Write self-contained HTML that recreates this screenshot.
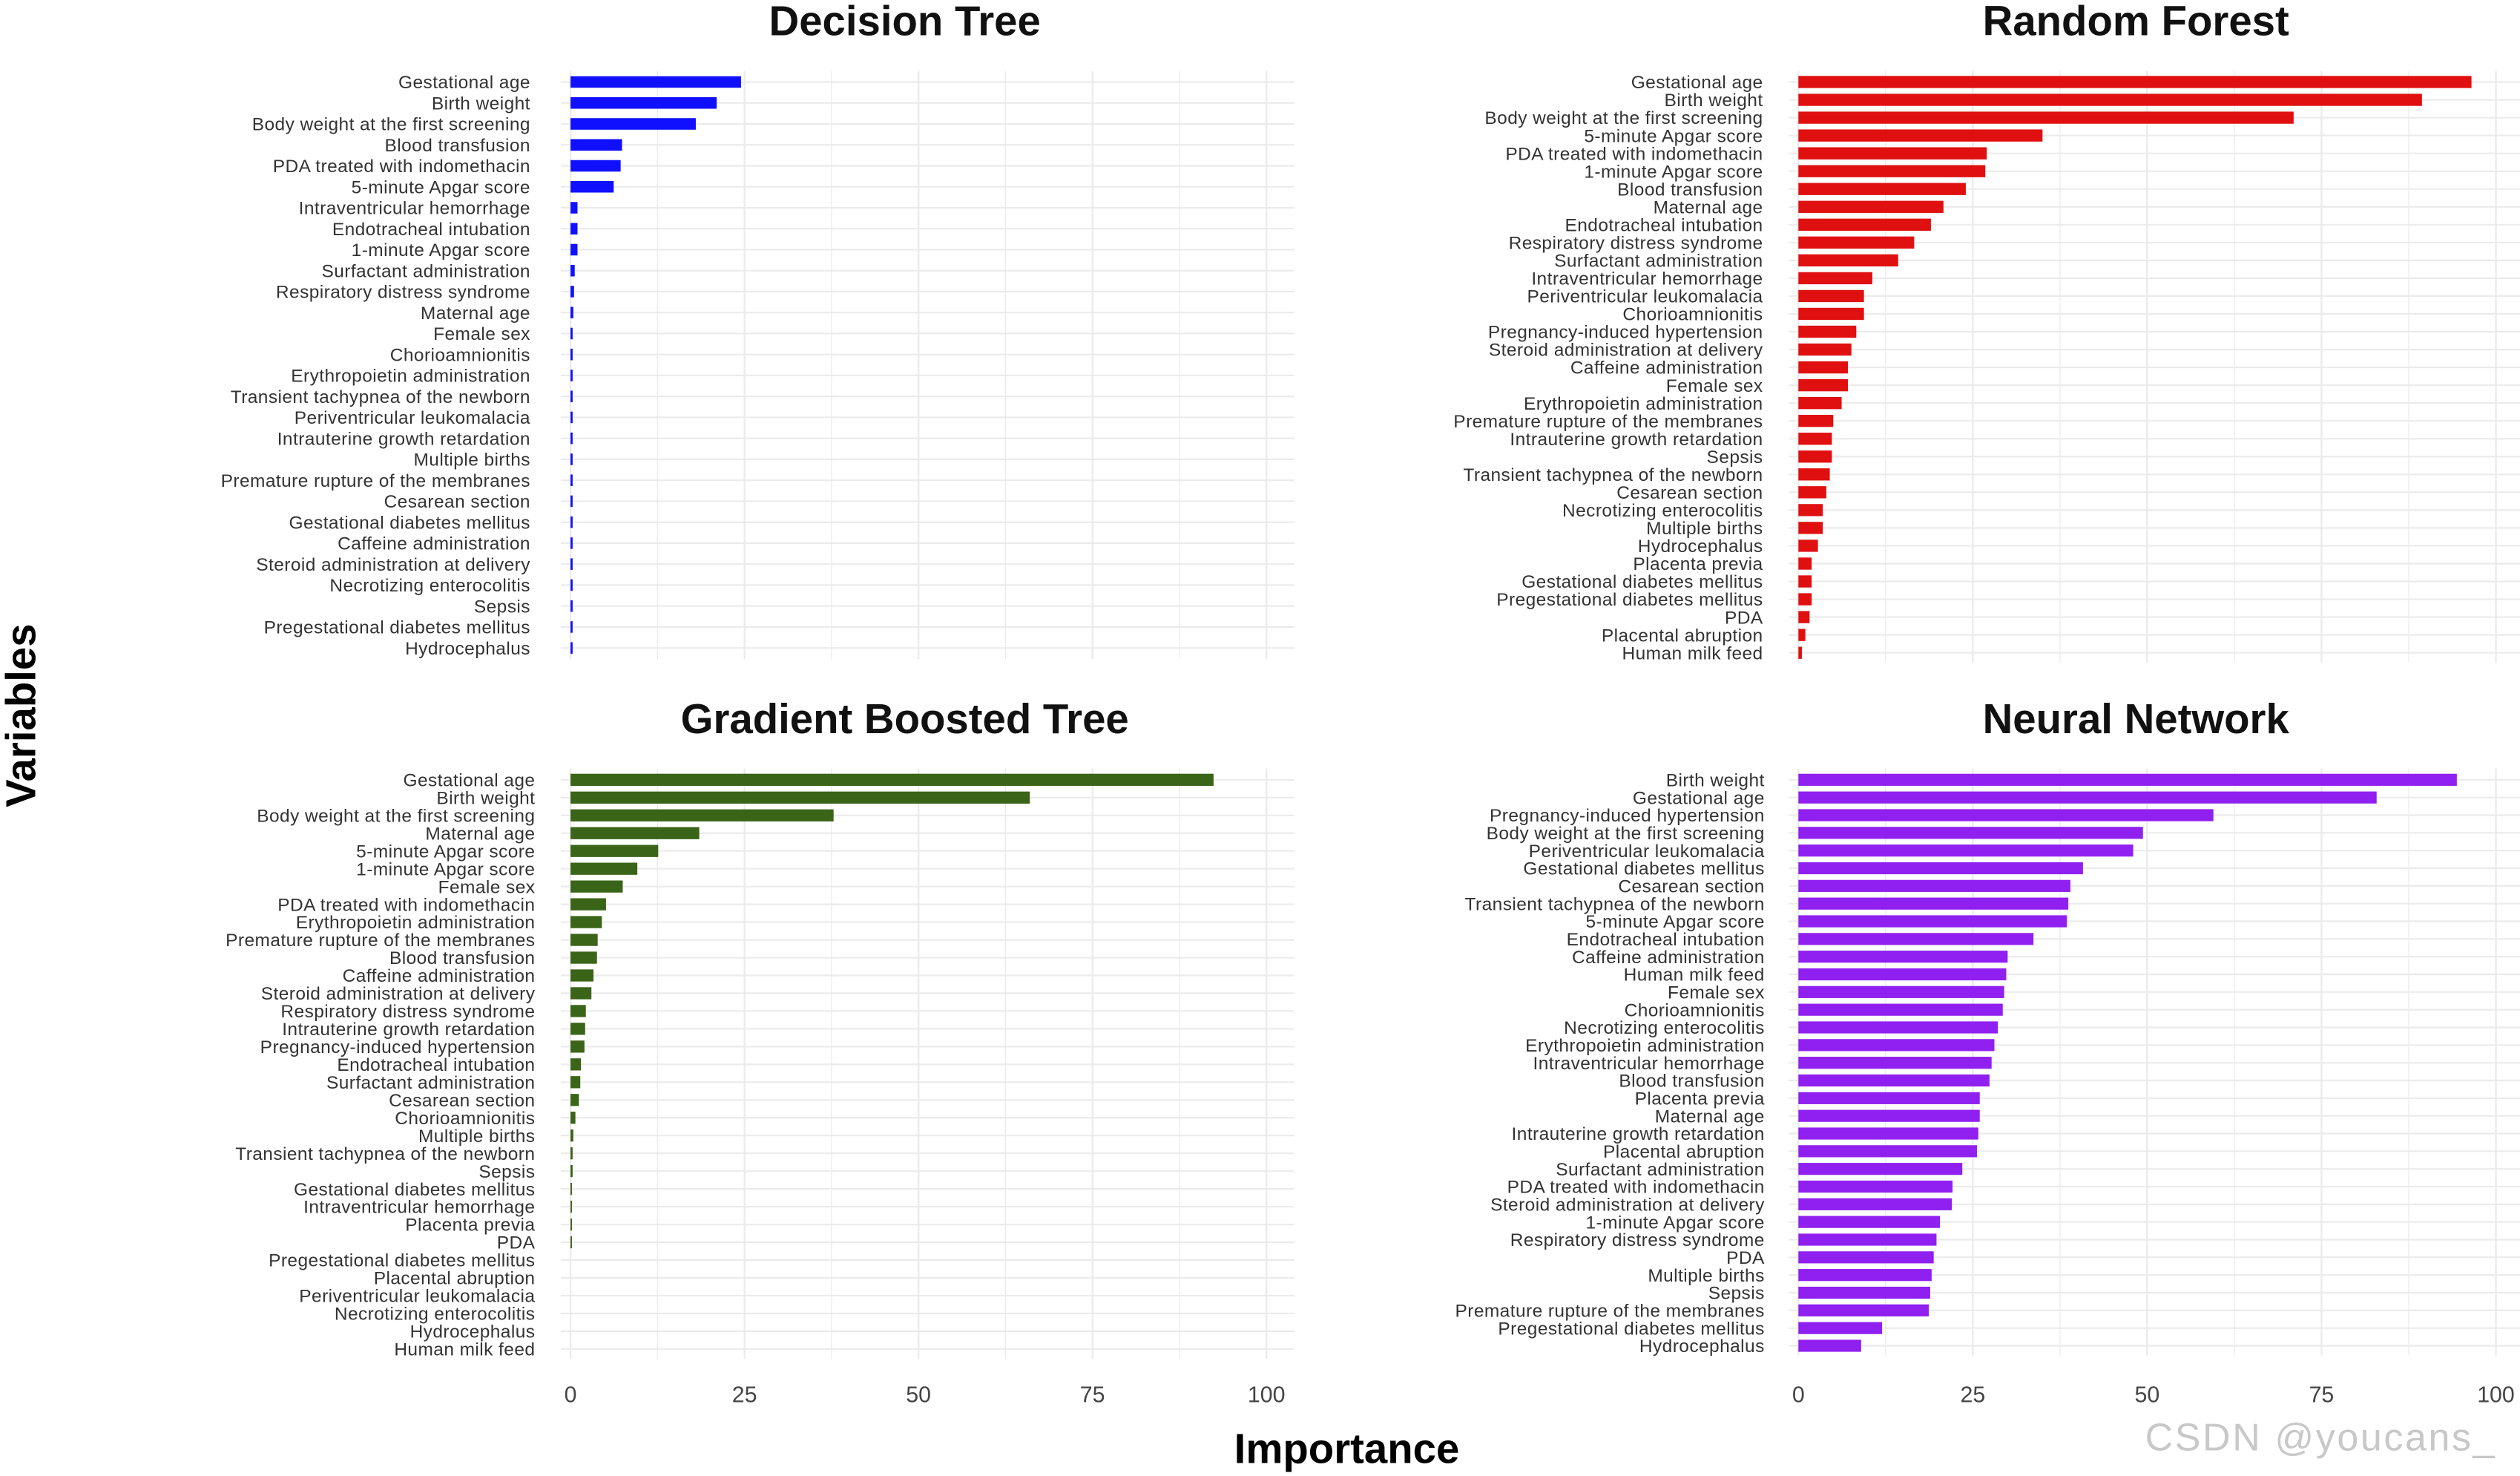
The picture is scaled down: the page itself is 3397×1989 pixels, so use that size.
<!DOCTYPE html>
<html><head><meta charset="utf-8">
<style>
html,body{margin:0;padding:0;background:#fff;}
svg{display:block;font-family:"Liberation Sans",sans-serif;}
</style></head>
<body>
<svg id="chart" width="3397" height="1989" viewBox="0 0 1568 918" preserveAspectRatio="none" xmlns="http://www.w3.org/2000/svg">
<rect width="1568" height="918" fill="#fff"/>
<text x="838" y="910" text-anchor="middle" font-size="26" font-weight="bold" fill="#000">Importance</text>
<text transform="translate(22,445) rotate(-90)" text-anchor="middle" font-size="26" font-weight="bold" fill="#000">Variables</text>
<text x="1444" y="902" text-anchor="middle" font-size="24" letter-spacing="1.2" fill="#c8c8c8">CSDN @youcans_</text>
</svg>
<script>
const dtLabels=["Gestational age","Birth weight","Body weight at the first screening","Blood transfusion","PDA treated with indomethacin","5-minute Apgar score","Intraventricular hemorrhage","Endotracheal intubation","1-minute Apgar score","Surfactant administration","Respiratory distress syndrome","Maternal age","Female sex","Chorioamnionitis","Erythropoietin administration","Transient tachypnea of the newborn","Periventricular leukomalacia","Intrauterine growth retardation","Multiple births","Premature rupture of the membranes","Cesarean section","Gestational diabetes mellitus","Caffeine administration","Steroid administration at delivery","Necrotizing enterocolitis","Sepsis","Pregestational diabetes mellitus","Hydrocephalus"];
const dtValues=[24.5,21,18,7.4,7.2,6.2,1,1,1,0.6,0.5,0.4,0.3,0.3,0.3,0.3,0.3,0.3,0.3,0.3,0.3,0.3,0.3,0.3,0.3,0.3,0.3,0.3];
const rfLabels=["Gestational age","Birth weight","Body weight at the first screening","5-minute Apgar score","PDA treated with indomethacin","1-minute Apgar score","Blood transfusion","Maternal age","Endotracheal intubation","Respiratory distress syndrome","Surfactant administration","Intraventricular hemorrhage","Periventricular leukomalacia","Chorioamnionitis","Pregnancy-induced hypertension","Steroid administration at delivery","Caffeine administration","Female sex","Erythropoietin administration","Premature rupture of the membranes","Intrauterine growth retardation","Sepsis","Transient tachypnea of the newborn","Cesarean section","Necrotizing enterocolitis","Multiple births","Hydrocephalus","Placenta previa","Gestational diabetes mellitus","Pregestational diabetes mellitus","PDA","Placental abruption","Human milk feed"];
const rfValues=[96.5,89.4,71,35,27,26.8,24,20.8,19,16.6,14.3,10.6,9.4,9.4,8.3,7.6,7.1,7.1,6.2,5,4.8,4.8,4.5,4,3.5,3.5,2.8,1.9,1.9,1.9,1.6,1,0.5];
const gbLabels=["Gestational age","Birth weight","Body weight at the first screening","Maternal age","5-minute Apgar score","1-minute Apgar score","Female sex","PDA treated with indomethacin","Erythropoietin administration","Premature rupture of the membranes","Blood transfusion","Caffeine administration","Steroid administration at delivery","Respiratory distress syndrome","Intrauterine growth retardation","Pregnancy-induced hypertension","Endotracheal intubation","Surfactant administration","Cesarean section","Chorioamnionitis","Multiple births","Transient tachypnea of the newborn","Sepsis","Gestational diabetes mellitus","Intraventricular hemorrhage","Placenta previa","PDA","Pregestational diabetes mellitus","Placental abruption","Periventricular leukomalacia","Necrotizing enterocolitis","Hydrocephalus","Human milk feed"];
const gbValues=[92.4,66,37.8,18.5,12.6,9.6,7.5,5.1,4.5,3.9,3.8,3.3,3,2.2,2.1,2,1.5,1.4,1.2,0.7,0.4,0.3,0.3,0.2,0.2,0.2,0.2,0,0,0,0,0,0];
const nnLabels=["Birth weight","Gestational age","Pregnancy-induced hypertension","Body weight at the first screening","Periventricular leukomalacia","Gestational diabetes mellitus","Cesarean section","Transient tachypnea of the newborn","5-minute Apgar score","Endotracheal intubation","Caffeine administration","Human milk feed","Female sex","Chorioamnionitis","Necrotizing enterocolitis","Erythropoietin administration","Intraventricular hemorrhage","Blood transfusion","Placenta previa","Maternal age","Intrauterine growth retardation","Placental abruption","Surfactant administration","PDA treated with indomethacin","Steroid administration at delivery","1-minute Apgar score","Respiratory distress syndrome","PDA","Multiple births","Sepsis","Premature rupture of the membranes","Pregestational diabetes mellitus","Hydrocephalus"];
const nnValues=[94.4,82.9,59.5,49.4,48,40.8,39,38.7,38.5,33.7,30,29.8,29.5,29.3,28.6,28.1,27.7,27.4,26,26,25.8,25.6,23.5,22.1,22,20.3,19.8,19.4,19.1,18.9,18.7,12,9];
const tickValues=[0,25,50,75,100];

const NS="http://www.w3.org/2000/svg";
const svg=document.getElementById('chart');
function mk(tag,attrs,parent){const e=document.createElementNS(NS,tag);for(const k in attrs)e.setAttribute(k,attrs[k]);(parent||svg).appendChild(e);return e;}

const panels=[
 {key:'decision-tree',title:'Decision Tree',labels:dtLabels,values:dtValues,color:'#1010ff',x0:355,x1:788,labelX:330,yTop:44,yBot:410,first:51,last:403,tx:563,ty:22,ticks:false,bf:0.55},
 {key:'random-forest',title:'Random Forest',labels:rfLabels,values:rfValues,color:'#e01010',x0:1119,x1:1553,labelX:1097,yTop:44,yBot:412,first:51,last:406,tx:1329,ty:22,ticks:false,bf:0.68},
 {key:'gradient-boosted-tree',title:'Gradient Boosted Tree',labels:gbLabels,values:gbValues,color:'#3a6418',x0:355,x1:788,labelX:333,yTop:478,yBot:845,first:485,last:839,tx:563,ty:456,ticks:true,bf:0.68},
 {key:'neural-network',title:'Neural Network',labels:nnLabels,values:nnValues,color:'#9020f0',x0:1119,x1:1553,labelX:1098,yTop:478,yBot:843,first:485,last:837,tx:1329,ty:456,ticks:true,bf:0.68}
];

panels.forEach(p=>{
 const g=mk('g',{});
 
 
 const n=p.labels.length;
 const step=(p.last-p.first)/(n-1);
 const xs=v=>p.x0+(p.x1-p.x0)*v/100;
 const ys=i=>p.first+i*step;
 for(let v=0;v<=100;v+=12.5){
  const l=mk('line',{x1:xs(v),x2:xs(v),y1:p.yTop,y2:p.yBot,stroke:'#ebebeb','stroke-width':(v%25===0)?1.1:0.6},g);
  
  
 }
 for(let i=0;i<n;i++){
  const l=mk('line',{x1:p.x0-6,x2:xs(104),y1:ys(i),y2:ys(i),stroke:'#ebebeb','stroke-width':1},g);
  
  
 }
 const bh=step*p.bf;
 for(let i=0;i<n;i++){
  const w=Math.max(0,xs(p.values[i])-xs(0));
  const r=mk('rect',{x:xs(0),y:ys(i)-bh/2,width:w,height:bh,fill:p.color},g);
  
  
  const t=mk('text',{x:p.labelX,y:ys(i)+4,'text-anchor':'end','font-size':11.3,fill:'#333','letter-spacing':'0.2'},g);
  t.textContent=p.labels[i];
  
  
 }
 const tt=mk('text',{x:p.tx,y:p.ty,'text-anchor':'middle','font-size':26,'font-weight':'bold',fill:'#111'},g);
 tt.textContent=p.title;
 
 
 if(p.ticks){
  tickValues.forEach(v=>{
   const t=mk('text',{x:xs(v),y:872,'text-anchor':'middle','font-size':14,fill:'#444'},g);
   t.textContent=v;
   
   
  });
 }
});
</script>
</body></html>
